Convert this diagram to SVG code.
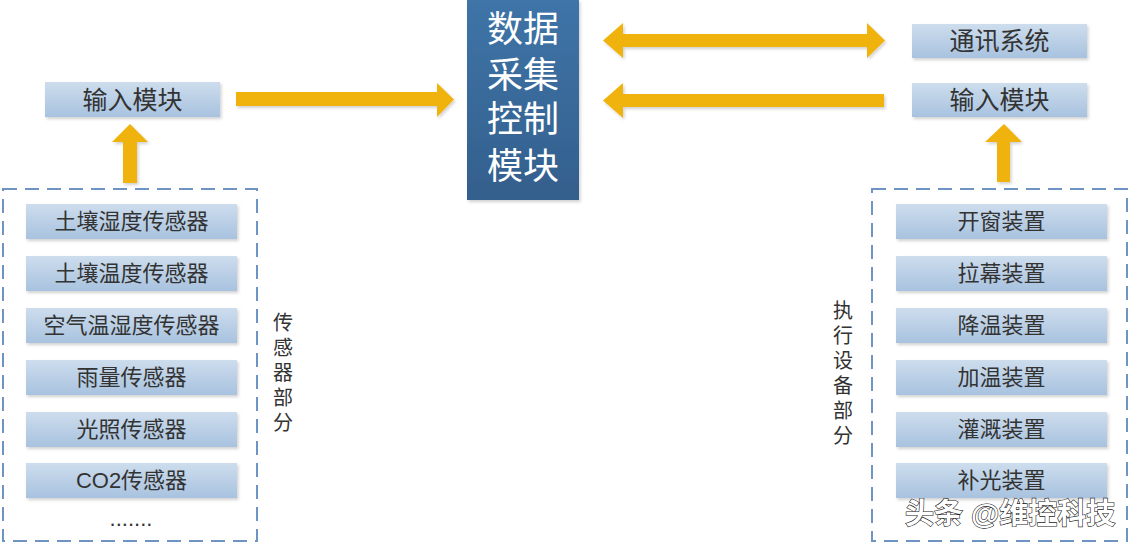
<svg xmlns="http://www.w3.org/2000/svg" width="1130" height="543" viewBox="0 0 1130 543">
<defs>
<linearGradient id="boxg" x1="0" y1="0" x2="0" y2="1">
<stop offset="0" stop-color="#cddded"/>
<stop offset="1" stop-color="#a8c2df"/>
</linearGradient>
<linearGradient id="cg" x1="0" y1="0" x2="0" y2="1">
<stop offset="0" stop-color="#3f74a8"/>
<stop offset="1" stop-color="#335f8c"/>
</linearGradient>
<filter id="sh" x="-10%" y="-20%" width="130%" height="150%">
<feDropShadow dx="1.5" dy="2" stdDeviation="1.5" flood-color="#000" flood-opacity="0.18"/>
</filter>
</defs>
<style>
.box{fill:url(#boxg);filter:url(#sh)}
.t{font-family:"Liberation Sans","Noto Sans CJK SC",sans-serif;fill:#333;text-anchor:middle;dominant-baseline:central}
.bt{font-size:22px}
.mt{font-size:25px}
.vt{font-size:20px}
.ct{font-family:"Liberation Sans","Noto Sans CJK SC",sans-serif;font-size:36px;fill:#fff;text-anchor:middle;dominant-baseline:central}
.arr{fill:#f0b30a;filter:url(#sh)}
.dash{fill:none;stroke:#6d94c2;stroke-width:2;stroke-dasharray:14 8}
.wm{font-family:"Liberation Sans","Noto Sans CJK SC",sans-serif;font-size:29px;font-weight:bold;fill:#fff;stroke:#222;stroke-width:1.2;paint-order:stroke}
</style>
<rect width="1130" height="543" fill="#fff"/>

<g id="sensor-group">
<rect class="dash" x="3" y="189" width="254" height="352"/>
</g>
<g id="device-group">
<rect class="dash" x="872" y="189" width="255" height="352"/>
</g>

<g id="connectors">
<polygon class="arr" points="236,92 437,92 437,83 454,99.5 437,117 437,106 236,106"/>
<polygon class="arr" points="123,183 123,142 112,142 130,124 148,142 137,142 137,183"/>
<polygon class="arr" points="997,182 997,142 985,142 1004,124 1022,142 1010,142 1010,182"/>
<polygon class="arr" points="603,40.5 623,23 623,34 867,34 867,23 885,40.5 867,58 867,47 623,47 623,58"/>
<polygon class="arr" points="603,100.5 623,83 623,94 884,94 884,107 623,107 623,118"/>
</g>

<g id="center">
<rect x="467" y="0" width="112" height="200" fill="url(#cg)" filter="url(#sh)"/>
<text class="ct" x="523" y="29">数据</text>
<text class="ct" x="523" y="75">采集</text>
<text class="ct" x="523" y="119">控制</text>
<text class="ct" x="523" y="166">模块</text>
</g>

<g id="input-left"><rect class="box" x="45" y="82" width="175" height="35"/><text class="t mt" x="132.5" y="99.5">输入模块</text></g>
<g id="comm"><rect class="box" x="912" y="24" width="175" height="34"/><text class="t mt" x="999.5" y="41">通讯系统</text></g>
<g id="input-right"><rect class="box" x="912" y="83" width="175" height="34"/><text class="t mt" x="999.5" y="100">输入模块</text></g>

<g id="s1"><rect class="box" x="26" y="204" width="211" height="35"/><text class="t bt" x="131.5" y="221.5">土壤湿度传感器</text></g>
<g id="s2"><rect class="box" x="26" y="256" width="211" height="35"/><text class="t bt" x="131.5" y="273.5">土壤温度传感器</text></g>
<g id="s3"><rect class="box" x="26" y="308" width="211" height="35"/><text class="t bt" x="131.5" y="325.5">空气温湿度传感器</text></g>
<g id="s4"><rect class="box" x="26" y="360" width="211" height="35"/><text class="t bt" x="131.5" y="377.5">雨量传感器</text></g>
<g id="s5"><rect class="box" x="26" y="412" width="211" height="35"/><text class="t bt" x="131.5" y="429.5">光照传感器</text></g>
<g id="s6"><rect class="box" x="26" y="463" width="211" height="35"/><text class="t bt" x="131.5" y="480.5">CO2传感器</text></g>
<g id="s-more"><text class="t bt" x="131" y="518">.......</text></g>

<g id="d1"><rect class="box" x="896" y="204" width="211" height="35"/><text class="t bt" x="1001.5" y="221.5">开窗装置</text></g>
<g id="d2"><rect class="box" x="896" y="256" width="211" height="35"/><text class="t bt" x="1001.5" y="273.5">拉幕装置</text></g>
<g id="d3"><rect class="box" x="896" y="308" width="211" height="35"/><text class="t bt" x="1001.5" y="325.5">降温装置</text></g>
<g id="d4"><rect class="box" x="896" y="360" width="211" height="35"/><text class="t bt" x="1001.5" y="377.5">加温装置</text></g>
<g id="d5"><rect class="box" x="896" y="412" width="211" height="35"/><text class="t bt" x="1001.5" y="429.5">灌溉装置</text></g>
<g id="d6"><rect class="box" x="896" y="463" width="211" height="35"/><text class="t bt" x="1001.5" y="480.5">补光装置</text></g>

<g id="label-sensor">
<text class="t vt" x="283" y="323">传</text>
<text class="t vt" x="283" y="348">感</text>
<text class="t vt" x="283" y="373">器</text>
<text class="t vt" x="283" y="398">部</text>
<text class="t vt" x="283" y="423">分</text>
</g>
<g id="label-device">
<text class="t vt" x="843" y="311">执</text>
<text class="t vt" x="843" y="336">行</text>
<text class="t vt" x="843" y="361">设</text>
<text class="t vt" x="843" y="386">备</text>
<text class="t vt" x="843" y="411">部</text>
<text class="t vt" x="843" y="436">分</text>
</g>

<text class="wm" x="905" y="524">头条 @维控科技</text>
</svg>
